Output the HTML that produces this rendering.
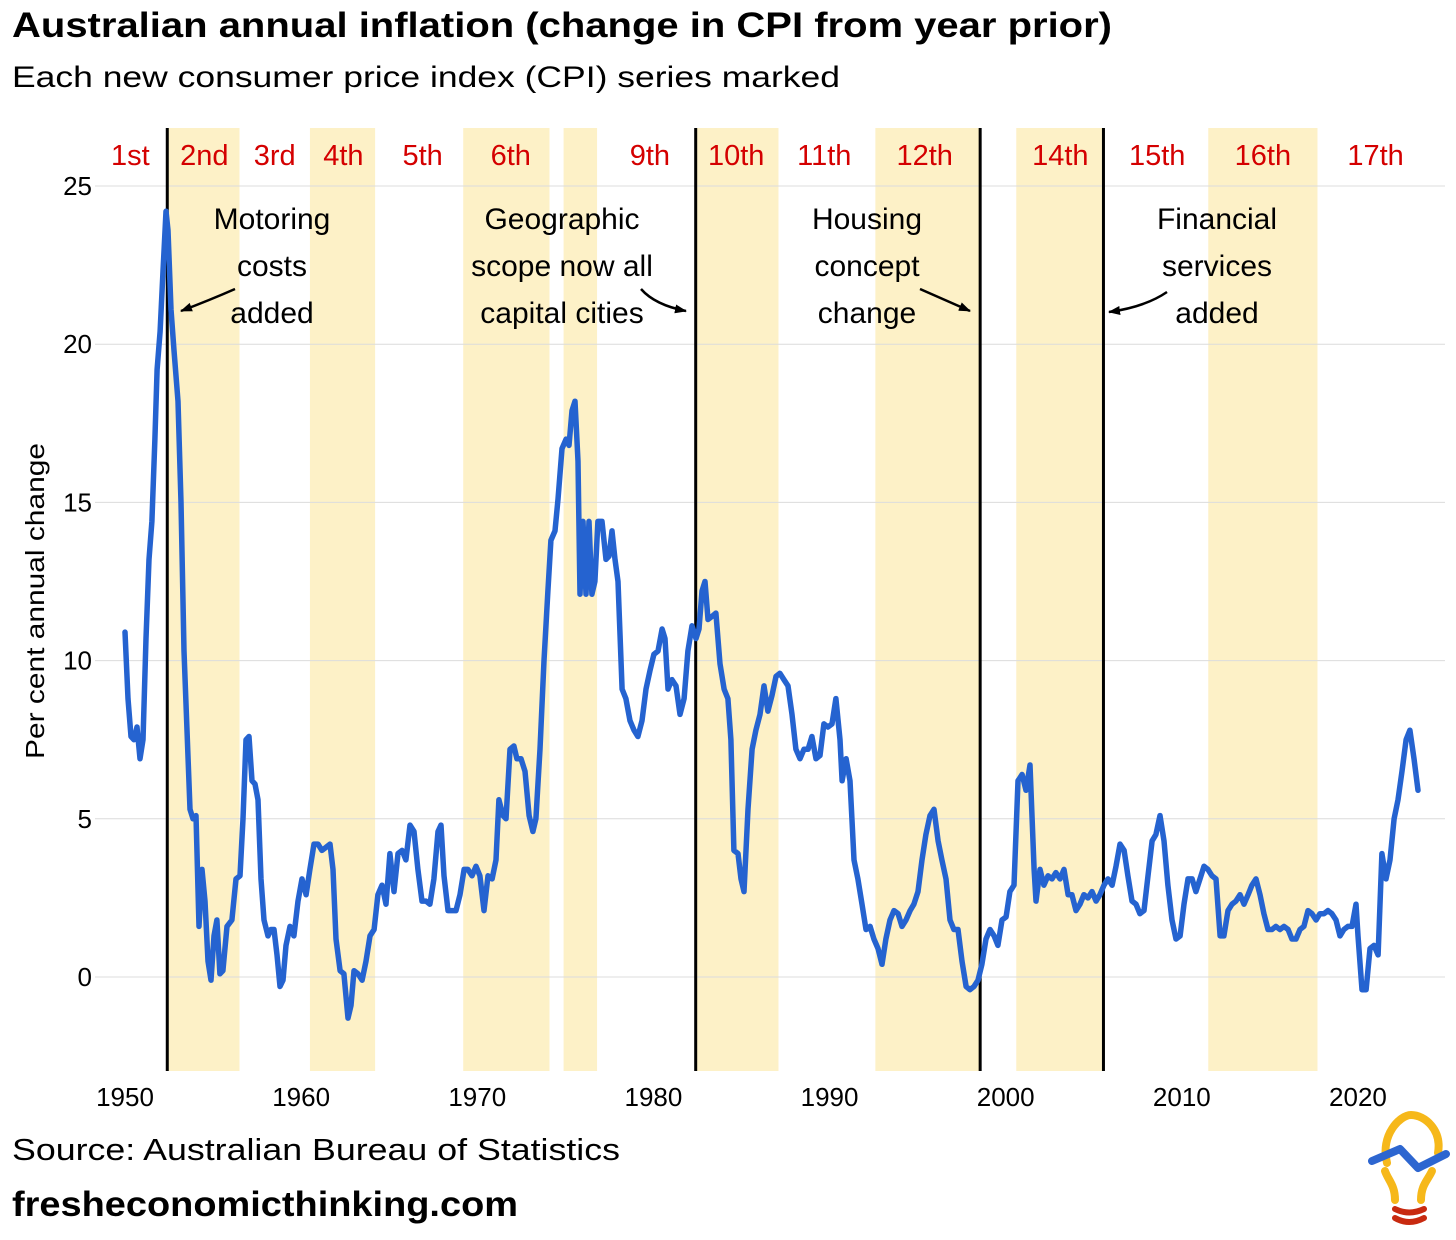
<!DOCTYPE html>
<html><head><meta charset="utf-8"><style>
html,body{margin:0;padding:0;background:#fff;}
body{width:1456px;height:1235px;overflow:hidden;font-family:"Liberation Sans",sans-serif;}
</style></head><body>
<svg id="chart" width="1456" height="1235" xmlns="http://www.w3.org/2000/svg" font-family="Liberation Sans, sans-serif">
<text x="12" y="37" font-size="35" font-weight="bold" fill="#000" textLength="1100" lengthAdjust="spacingAndGlyphs">Australian annual inflation (change in CPI from year prior)</text>
<text x="12" y="87" font-size="30" fill="#000" textLength="828" lengthAdjust="spacingAndGlyphs">Each new consumer price index (CPI) series marked</text>
<g id="bands"></g><g id="grid"></g><g id="vlines"></g><g id="labels"></g><g id="series"></g><g id="annot"></g>
<text transform="translate(44,601) rotate(-90)" text-anchor="middle" font-size="26" fill="#000" textLength="316" lengthAdjust="spacingAndGlyphs">Per cent annual change</text>
<text x="12" y="1160" font-size="31" fill="#000" textLength="608" lengthAdjust="spacingAndGlyphs">Source: Australian Bureau of Statistics</text>
<text x="12" y="1216" font-size="35" font-weight="bold" fill="#000" textLength="506" lengthAdjust="spacingAndGlyphs">fresheconomicthinking.com</text>
<g>
<path d="M1387,1163 C1380,1135 1400,1115 1411,1115 C1425,1115 1442,1130 1438,1153" fill="none" stroke="#f6b81a" stroke-width="8" stroke-linecap="round"/>
<path d="M1385,1171 C1388,1180 1395,1185 1395,1200" fill="none" stroke="#f6b81a" stroke-width="8" stroke-linecap="round"/>
<path d="M1432,1171 C1428,1180 1421,1185 1421,1200" fill="none" stroke="#f6b81a" stroke-width="8" stroke-linecap="round"/>
<polyline points="1372,1161 1400,1149 1418,1168 1446,1154" fill="none" stroke="#2d66d0" stroke-width="8" stroke-linecap="round" stroke-linejoin="round"/>
<path d="M1395,1209 Q1409,1216 1424,1209" fill="none" stroke="#c82a10" stroke-width="6" stroke-linecap="round"/>
<path d="M1395,1218 Q1409,1226 1424,1218" fill="none" stroke="#c82a10" stroke-width="6" stroke-linecap="round"/>
</g>
</svg>
<script>
const years=[1950.00,1950.17,1950.34,1950.51,1950.68,1950.85,1951.02,1951.19,1951.36,1951.53,1951.70,1951.82,1951.99,1952.16,1952.33,1952.44,1952.61,1952.78,1953.01,1953.18,1953.35,1953.52,1953.69,1953.86,1954.03,1954.20,1954.37,1954.54,1954.71,1954.88,1955.05,1955.22,1955.39,1955.56,1955.79,1956.07,1956.30,1956.53,1956.70,1956.87,1957.04,1957.21,1957.38,1957.55,1957.72,1957.89,1958.12,1958.29,1958.46,1958.63,1958.80,1958.97,1959.14,1959.37,1959.59,1959.82,1960.05,1960.28,1960.50,1960.73,1960.96,1961.18,1961.41,1961.64,1961.81,1961.98,1962.21,1962.43,1962.66,1962.83,1963.00,1963.23,1963.46,1963.68,1963.91,1964.14,1964.36,1964.59,1964.82,1965.04,1965.27,1965.50,1965.73,1965.95,1966.18,1966.41,1966.63,1966.86,1967.09,1967.31,1967.54,1967.77,1967.94,1968.11,1968.34,1968.56,1968.79,1969.02,1969.25,1969.47,1969.70,1969.93,1970.15,1970.38,1970.61,1970.84,1971.06,1971.23,1971.46,1971.63,1971.86,1972.08,1972.25,1972.48,1972.71,1972.94,1973.16,1973.33,1973.56,1973.79,1974.01,1974.18,1974.41,1974.58,1974.81,1975.04,1975.21,1975.38,1975.55,1975.72,1975.83,1976.00,1976.17,1976.34,1976.51,1976.68,1976.85,1977.08,1977.31,1977.48,1977.65,1977.82,1977.99,1978.22,1978.44,1978.67,1978.90,1979.12,1979.35,1979.58,1979.81,1980.03,1980.26,1980.49,1980.66,1980.83,1981.05,1981.28,1981.51,1981.74,1981.96,1982.19,1982.42,1982.59,1982.76,1982.93,1983.10,1983.33,1983.55,1983.78,1984.01,1984.23,1984.40,1984.57,1984.80,1984.97,1985.14,1985.37,1985.60,1985.82,1986.05,1986.28,1986.50,1986.73,1986.96,1987.18,1987.41,1987.64,1987.87,1988.09,1988.32,1988.55,1988.78,1989.00,1989.23,1989.46,1989.68,1989.91,1990.14,1990.36,1990.59,1990.71,1990.94,1991.16,1991.39,1991.61,1991.84,1992.07,1992.30,1992.52,1992.75,1992.98,1993.20,1993.43,1993.66,1993.89,1994.11,1994.34,1994.57,1994.79,1995.02,1995.25,1995.47,1995.70,1995.93,1996.16,1996.38,1996.61,1996.84,1997.06,1997.29,1997.52,1997.75,1997.97,1998.20,1998.43,1998.65,1998.88,1999.11,1999.34,1999.56,1999.79,2000.02,2000.24,2000.47,2000.70,2000.93,2001.15,2001.38,2001.61,2001.72,2001.95,2002.17,2002.40,2002.63,2002.85,2003.08,2003.31,2003.54,2003.76,2003.99,2004.22,2004.44,2004.67,2004.90,2005.13,2005.35,2005.58,2005.81,2006.04,2006.26,2006.49,2006.72,2006.94,2007.17,2007.40,2007.62,2007.85,2008.08,2008.31,2008.53,2008.76,2008.99,2009.21,2009.44,2009.67,2009.90,2010.12,2010.35,2010.58,2010.80,2011.03,2011.26,2011.48,2011.71,2011.94,2012.17,2012.39,2012.62,2012.85,2013.07,2013.30,2013.53,2013.76,2013.98,2014.21,2014.44,2014.66,2014.89,2015.12,2015.34,2015.57,2015.80,2016.03,2016.25,2016.48,2016.71,2016.93,2017.16,2017.39,2017.62,2017.84,2018.07,2018.30,2018.52,2018.75,2018.98,2019.20,2019.43,2019.66,2019.89,2020.00,2020.23,2020.46,2020.68,2020.91,2021.14,2021.36,2021.59,2021.82,2022.05,2022.27,2022.50,2022.73,2022.95,2023.18,2023.41];
const inflation=[10.9,8.8,7.6,7.5,7.9,6.9,7.5,10.7,13.2,14.4,17.0,19.2,20.4,22.3,24.2,23.6,21.1,19.8,18.2,15.0,10.3,7.8,5.3,5.0,5.1,1.6,3.4,2.4,0.5,-0.1,1.3,1.8,0.1,0.2,1.6,1.8,3.1,3.2,5.0,7.5,7.6,6.2,6.1,5.6,3.1,1.8,1.3,1.5,1.5,0.7,-0.3,-0.1,1.0,1.6,1.3,2.4,3.1,2.6,3.4,4.2,4.2,4.0,4.1,4.2,3.4,1.2,0.2,0.1,-1.3,-0.9,0.2,0.1,-0.1,0.5,1.3,1.5,2.6,2.9,2.3,3.9,2.7,3.9,4.0,3.7,4.8,4.6,3.4,2.4,2.4,2.3,3.1,4.6,4.8,3.2,2.1,2.1,2.1,2.6,3.4,3.4,3.2,3.5,3.2,2.1,3.2,3.1,3.7,5.6,5.1,5.0,7.2,7.3,6.9,6.9,6.5,5.1,4.6,5.0,7.2,10.0,12.2,13.8,14.1,15.1,16.7,17.0,16.8,17.9,18.2,16.3,12.1,14.4,12.1,14.4,12.1,12.5,14.4,14.4,13.2,13.3,14.1,13.2,12.5,9.1,8.8,8.1,7.8,7.6,8.1,9.1,9.7,10.2,10.3,11.0,10.7,9.1,9.4,9.2,8.3,8.8,10.3,11.1,10.7,11.0,12.2,12.5,11.3,11.4,11.5,9.9,9.1,8.8,7.5,4.0,3.9,3.1,2.7,5.3,7.2,7.8,8.3,9.2,8.4,8.9,9.5,9.6,9.4,9.2,8.3,7.2,6.9,7.2,7.2,7.6,6.9,7.0,8.0,7.9,8.0,8.8,7.5,6.2,6.9,6.2,3.7,3.1,2.3,1.5,1.6,1.2,0.9,0.4,1.2,1.8,2.1,2.0,1.6,1.8,2.1,2.3,2.7,3.7,4.5,5.1,5.3,4.3,3.7,3.1,1.8,1.5,1.5,0.5,-0.3,-0.4,-0.3,-0.1,0.4,1.2,1.5,1.3,1.0,1.8,1.9,2.7,2.9,6.2,6.4,5.9,6.7,3.4,2.4,3.4,2.9,3.2,3.1,3.3,3.1,3.4,2.6,2.6,2.1,2.3,2.6,2.5,2.7,2.4,2.6,2.9,3.1,2.9,3.5,4.2,4.0,3.2,2.4,2.3,2.0,2.1,3.2,4.3,4.5,5.1,4.3,2.9,1.8,1.2,1.3,2.3,3.1,3.1,2.7,3.1,3.5,3.4,3.2,3.1,1.3,1.3,2.1,2.3,2.4,2.6,2.3,2.6,2.9,3.1,2.6,2.0,1.5,1.5,1.6,1.5,1.6,1.5,1.2,1.2,1.5,1.6,2.1,2.0,1.8,2.0,2.0,2.1,2.0,1.8,1.3,1.5,1.6,1.6,2.3,1.3,-0.4,-0.4,0.9,1.0,0.7,3.9,3.1,3.7,5.0,5.6,6.5,7.5,7.8,6.9,5.9];
const bandStarts=[1952.4,1960.5,1969.2,1974.9,1982.4,1992.6,2000.6,2011.5];
const bandEnds=[1956.5,1964.2,1974.1,1976.8,1987.1,1998.5,2005.5,2017.7];
const breakYears=[1952.4,1982.4,1998.55,2005.55];
const seriesLabels=["1st","2nd","3rd","4th","5th","6th","9th","10th","11th","12th","14th","15th","16th","17th"];
const seriesLabelYears=[1950.3,1954.5,1958.5,1962.4,1966.9,1971.9,1979.8,1984.7,1989.7,1995.4,2003.1,2008.6,2014.6,2021.0];
const yTicks=[0,5,10,15,20,25];
const xTicks=[1950,1960,1970,1980,1990,2000,2010,2020];

const NS="http://www.w3.org/2000/svg";
const X0=95,X1=1445,TOP=128,BOT=1071;
function xs(yr){return 125+(yr-1950)*17.614;}
function ys(v){return 977-v*31.64;}
function mk(tag,attrs,parent,txt){const e=document.createElementNS(NS,tag);for(const k in attrs)e.setAttribute(k,attrs[k]);if(txt!==undefined)e.textContent=txt;parent.appendChild(e);return e;}
const gB=document.getElementById('bands'),gG=document.getElementById('grid'),gV=document.getElementById('vlines'),gL=document.getElementById('labels'),gS=document.getElementById('series'),gA=document.getElementById('annot');
bandStarts.forEach((s,i)=>{const r=mk('rect',{x:xs(s),y:TOP,width:xs(bandEnds[i])-xs(s),height:BOT-TOP,fill:'#fdf1c7'},gB);

});
yTicks.forEach(t=>{const l=mk('line',{x1:X0,x2:X1,y1:ys(t),y2:ys(t),stroke:'#dcdcdc','stroke-width':1},gG);


const tx=mk('text',{x:92,y:ys(t)+9,'text-anchor':'end','font-size':26,fill:'#000'},gG,String(t));

});
xTicks.forEach(t=>{const tx=mk('text',{x:xs(t),y:1106,'text-anchor':'middle','font-size':26,fill:'#000'},gG,String(t));

});
breakYears.forEach(b=>{const l=mk('line',{x1:xs(b),x2:xs(b),y1:TOP,y2:BOT,stroke:'#000','stroke-width':3},gV);

});
seriesLabels.forEach((s,i)=>{const tx=mk('text',{x:xs(seriesLabelYears[i]),y:165,'text-anchor':'middle','font-size':29,fill:'#d40000'},gL,s);

});
const n=Math.min(years.length,inflation.length);
let d='';for(let i=0;i<n;i++)d+=(i?'L':'M')+xs(years[i]).toFixed(1)+','+ys(inflation[i]).toFixed(1);
const p=mk('path',{d:d,fill:'none',stroke:'#2563d0','stroke-width':5.5,'stroke-linejoin':'round','stroke-linecap':'round'},gS);


const ann=[[272,["Motoring","costs","added"]],[562,["Geographic","scope now all","capital cities"]],[867,["Housing","concept","change"]],[1217,["Financial","services","added"]]];
ann.forEach(a=>{a[1].forEach((t,j)=>{const tx=mk('text',{x:a[0],y:229+j*47,'text-anchor':'middle','font-size':30,fill:'#000'},gA,t);

});});
mk('defs',{},gA).innerHTML='<marker id="ah" markerWidth="12" markerHeight="9" refX="11" refY="4.5" orient="auto" markerUnits="userSpaceOnUse"><path d="M0,0 L12,4.5 L0,9 z" fill="#000"/></marker>';
const arrows=["M235,289 Q210,300 181,311","M641,289 Q655,305 686,311","M920,289 Q945,300 970,311","M1167,292 Q1145,307 1109,312"];
arrows.forEach(s=>{const a=mk('path',{d:s,fill:'none',stroke:'#000','stroke-width':2.5,'marker-end':'url(#ah)'},gA);

});
</script>
</body></html>
